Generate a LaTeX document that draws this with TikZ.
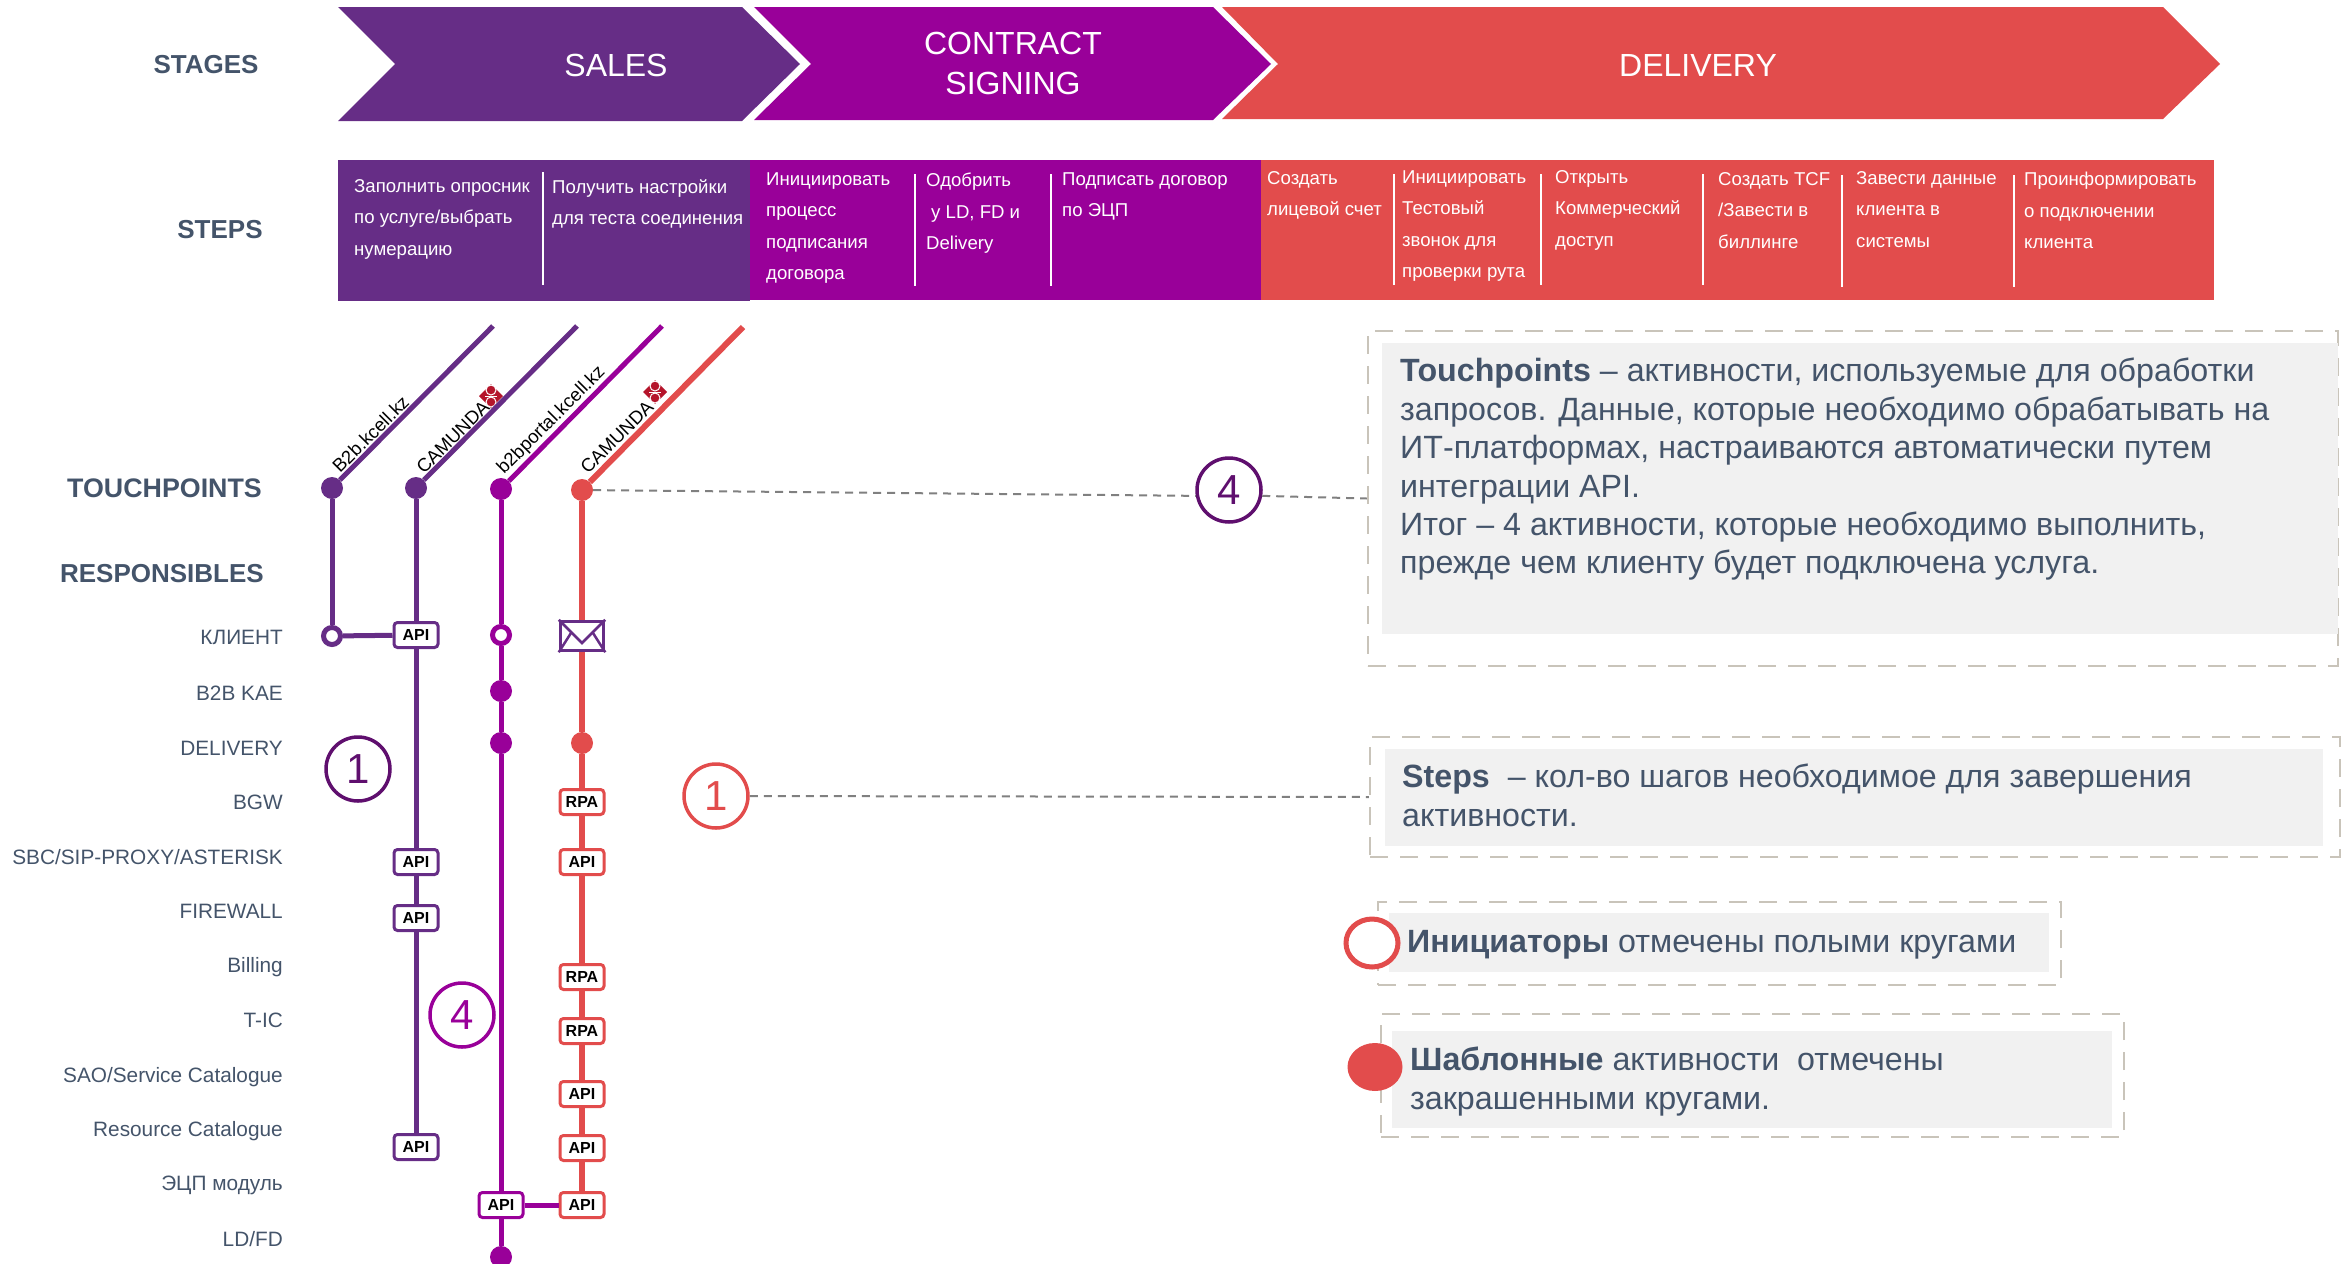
\documentclass[tikz,border=0pt]{standalone}
\usepackage{fontspec}
\setmainfont{Liberation Sans}
\usetikzlibrary{shapes.geometric}
\definecolor{salescol}{HTML}{662D86}
\definecolor{signcol}{HTML}{990099}
\definecolor{delivcol}{HTML}{E24C4C}
\definecolor{darkcount}{HTML}{5F0F6E}
\definecolor{labelcol}{HTML}{44546A}
\definecolor{framecol}{HTML}{C9C4BA}
\definecolor{notecol}{HTML}{F1F1F1}
\definecolor{logocol}{HTML}{B5152B}
\tikzset{
    stagename/.style={text=white, font=\fontsize{32}{40}\selectfont, align=center, inner sep=0pt},
    stepname/.style={text=white, font=\fontsize{18.6}{31.5}\selectfont, align=left, inner sep=0pt, anchor=north west},
    stepline/.style={white, line width=2.5pt},
    heading/.style={text=labelcol, font=\fontsize{26}{30}\selectfont\bfseries, inner sep=0pt},
    role/.style={text=labelcol, font=\fontsize{20.8}{25}\selectfont, inner sep=0pt, anchor=east},
    toolname/.style={font=\fontsize{18.6}{24}\selectfont, rotate=45, inner sep=0pt, anchor=base west},
    dot/.style={circle, fill=#1, minimum size=22pt, inner sep=0pt},
    ring/.style={circle, draw=#1, fill=white, line width=5pt, minimum size=17pt, inner sep=0pt},
    tag/.style={draw=#1, fill=white, rounded corners=3.5pt, line width=3pt, minimum width=44pt, minimum height=25pt,
        inner sep=0pt, font=\fontsize{16}{18}\selectfont\bfseries},
    count/.style={circle, draw=#1, text=#1, line width=3.5pt, minimum size=64pt, inner sep=0pt, font=\fontsize{42}{44}\selectfont},
    route/.style={line width=5pt, draw=#1},
    redroute/.style={line width=6pt, draw=delivcol},
    leader/.style={draw=gray, line width=2pt, dash pattern=on 8pt off 6pt},
    noteframe/.style={draw=framecol, line width=2.5pt, dash pattern=on 18pt off 12pt, inner sep=0pt},
    notetext/.style={text=labelcol, font=\fontsize{32.2}{38.4}\selectfont, align=left, inner sep=0pt, anchor=north west},
    camundalogo/.pic={
        \fill[logocol] (-12,0) -- (0,-12) -- (12,0) -- (0,12) -- cycle;
        \draw[white, line width=1pt] (-6,0) -- (6,0);
        \fill[logocol, draw=white, line width=1pt] (0,-6) circle (5);
        \fill[logocol, draw=white, line width=1pt] (0,6) circle (5);
    }
}

\begin{document}
\begin{tikzpicture}[x=1pt, y=-1pt]
	\useasboundingbox (0,0) rectangle (2346,1264);
	% stages
	\fill[salescol] (338,7) -- (742,7) -- (800,64) -- (742,121) -- (338,121) -- (395,64) -- cycle;
	\fill[signcol] (754,7) -- (1213,7) -- (1271,64) -- (1213,120) -- (754,120) -- (811,64) -- cycle;
	\fill[delivcol] (1222,7) -- (2163,7) -- (2220,64) -- (2163,119) -- (1222,119) -- (1278,64) -- cycle;
	\node[heading] (STAGES) at (206,65) {STAGES};
	\node[stagename] (SALES) at (616,65) {SALES};
	\node[stagename] (SIGNING) at (1013,63) {CONTRACT\\SIGNING};
	\node[stagename] (DELIVERY) at (1698,65) {DELIVERY};
	% steps
	\fill[salescol] (338,160) rectangle (750,301);
	\fill[signcol] (750,160) rectangle (1261,300);
	\fill[delivcol] (1261,160) rectangle (2214,300);
	\node[heading] (STEPS) at (220,230) {STEPS};
	\draw[stepline] (543,172) -- (543,285);
	\draw[stepline] (915,174) -- (915,286);
	\draw[stepline] (1051,174) -- (1051,286);
	\draw[stepline] (1394,174) -- (1394,285);
	\draw[stepline] (1541,174) -- (1541,285);
	\draw[stepline] (1703,174) -- (1703,285);
	\draw[stepline] (1842,175) -- (1842,287);
	\draw[stepline] (2014,175) -- (2014,287);
	\node[stepname] (FORM) at (354,179) {Заполнить опросник\\по услуге/выбрать\\нумерацию};
	\node[stepname] (SETUP) at (552,179) {Получить настройки\\для теста соединения};
	\node[stepname] (INIT) at (766,172) {Инициировать\\процесс\\подписания\\договора};
	\node[stepname] (APPROVE) at (926,173) {Одобрить\\\hspace*{5pt}у LD, FD и\\Delivery};
	\node[stepname] (SIGN) at (1062,172) {Подписать договор\\по ЭЦП};
	\node[stepname] (ACCOUNT) at (1267,171) {Создать\\лицевой счет};
	\node[stepname] (TESTCALL) at (1402,170) {Инициировать\\Тестовый\\звонок для\\проверки рута};
	\node[stepname] (OPENING) at (1555,170) {Открыть\\Коммерческий\\доступ};
	\node[stepname] (BILLING) at (1718,172) {Создать TCF\\/Завести в\\биллинге};
	\node[stepname] (SYSTEMS) at (1856,171) {Завести данные\\клиента в\\системы};
	\node[stepname] (NOTIFY) at (2024,172) {Проинформировать\\о подключении\\клиента};
	% ----
	\node[heading, anchor=east, font=\fontsize{26.8}{30}\selectfont\bfseries] (TOUCHPOINTS) at (262,488) {TOUCHPOINTS};
	\node[heading, anchor=east] (RESPONSIBLES) at (264,574) {RESPONSIBLES};
	\node[role] (CLIENT) at (283,637) {КЛИЕНТ};
	\node[role] (KAE) at (283,693) {B2B KAE};
	\node[role] (DELIV) at (283,748) {DELIVERY};
	\node[role] (BGW) at (283,802) {BGW};
	\node[role] (SBC) at (283,857) {SBC/SIP-PROXY/ASTERISK};
	\node[role] (FIREWALL) at (283,911) {FIREWALL};
	\node[role] (BILL) at (283,967) {Billing};
	\node[role] (TIC) at (283,1020) {T-IC};
	\node[role] (SAO) at (283,1077) {SAO/Service Catalogue};
	\node[role] (RESCAT) at (283,1131) {Resource Catalogue};
	\node[role] (EDS) at (283,1185) {ЭЦП модуль};
	\node[role] (LDFD) at (283,1239) {LD/FD};
	% first route
	\coordinate (ENDA) at (493,326);
	\node[dot=salescol] (TPA) at (332,488) {};
	\node[ring=salescol] (CLIENTA) at (332,636) {};
	\node[toolname] (SITEA) at (340,474) {B2b.kcell.kz};
	% second route
	\coordinate (ENDB) at (577,326);
	\node[dot=salescol] (TPB) at (416,488) {};
	\node[tag=salescol] (APIA) at (416,635) {API};
	\node[tag=salescol] (APIB) at (416,862) {API};
	\node[tag=salescol] (APIC) at (416,918) {API};
	\node[tag=salescol] (APID) at (416,1147) {API};
	\node[toolname] (SITEB) at (424,475) {CAMUNDA};
	\pic at (491,396) {camundalogo};
	% third route
	\coordinate (ENDC) at (662,326);
	\node[dot=signcol] (TPC) at (501,489) {};
	\node[ring=signcol] (CLIENTC) at (501,635) {};
	\node[dot=signcol] (KAEC) at (501,691) {};
	\node[dot=signcol] (DELIVC) at (501,743) {};
	\node[tag=signcol] (APIE) at (501,1205) {API};
	\node[dot=signcol] (LDFDC) at (501,1257) {};
	\node[toolname] (SITEC) at (504,475) {b2bportal.kcell.kz};
	% fourth route
	\coordinate (ENDD) at (743,327);
	\node[dot=delivcol] (TPD) at (582,490) {};
	\node[draw=salescol, fill=white, line width=3.5pt, minimum width=43pt, minimum height=29pt, inner sep=0pt] (MAIL) at (582,636) {};
	\node[dot=delivcol] (DELIVD) at (582,743) {};
	\node[tag=delivcol] (RPAA) at (582,802) {RPA};
	\node[tag=delivcol] (APIF) at (582,862) {API};
	\node[tag=delivcol] (RPAB) at (582,977) {RPA};
	\node[tag=delivcol] (RPAC) at (582,1031) {RPA};
	\node[tag=delivcol] (APIG) at (582,1094) {API};
	\node[tag=delivcol] (APIH) at (582,1148) {API};
	\node[tag=delivcol] (APII) at (582,1205) {API};
	\node[toolname] (SITED) at (588,475) {CAMUNDA};
	\pic at (655,392) {camundalogo};
	% ----
	\draw[route=salescol] (TPA) -- (ENDA);
	\draw[route=salescol] (TPA) -- (CLIENTA);
	\draw[route=salescol] (CLIENTA) -- (APIA);
	\draw[route=salescol] (TPB) -- (ENDB);
	\draw[route=salescol] (TPB) -- (APIA);
	\draw[route=salescol] (APIA) -- (APIB);
	\draw[route=salescol] (APIB) -- (APIC);
	\draw[route=salescol] (APIC) -- (APID);
	\draw[route=signcol] (TPC) -- (ENDC);
	\draw[route=signcol] (TPC) -- (CLIENTC);
	\draw[route=signcol] (CLIENTC) -- (KAEC);
	\draw[route=signcol] (KAEC) -- (DELIVC);
	\draw[route=signcol] (DELIVC) -- (APIE);
	\draw[route=signcol] (APIE) -- (LDFDC);
	\draw[route=signcol] (APIE) -- (APII);
	\draw[redroute] (TPD) -- (ENDD);
	\draw[redroute] (TPD) -- (MAIL);
	\draw[redroute] (MAIL) -- (DELIVD);
	\draw[redroute] (DELIVD) -- (RPAA);
	\draw[redroute] (RPAA) -- (APIF);
	\draw[redroute] (APIF) -- (RPAB);
	\draw[redroute] (RPAB) -- (RPAC);
	\draw[redroute] (RPAC) -- (APIG);
	\draw[redroute] (APIG) -- (APIH);
	\draw[redroute] (APIH) -- (APII);
	\draw[salescol, line width=2.5pt] (MAIL.north west) -- (582,643) -- (MAIL.north east);
	\draw[salescol, line width=2.5pt] (MAIL.south west) -- (571,633);
	\draw[salescol, line width=2.5pt] (MAIL.south east) -- (593,633);
	% counters
	\node[count=darkcount] (COUNTA) at (358,769) {1};
	\node[count=signcol] (COUNTB) at (462,1015) {4};
	\node[count=delivcol] (COUNTC) at (716,796) {1};
	\node[count=darkcount] (COUNTD) at (1229,490) {4};
	% notes
	\node[noteframe, minimum width=970pt, minimum height=335pt] (TPFRAME) at (1853,498.5) {};
	\fill[notecol] (1382,343) rectangle (2338,634);
	\node[notetext] (TPNOTE) at (1400,358) {\textbf{Touchpoints} – активности, используемые для обработки\\запросов. Данные, которые необходимо обрабатывать на\\ИТ-платформах, настраиваются автоматически путем\\интеграции API.\\Итог – 4 активности, которые необходимо выполнить,\\прежде чем клиенту будет подключена услуга.};
	\node[noteframe, minimum width=970pt, minimum height=120pt] (STFRAME) at (1855,797) {};
	\fill[notecol] (1385,749) rectangle (2323,846);
	\node[notetext] (STNOTE) at (1402,764) {\textbf{Steps}\hspace*{9pt} – кол-во шагов необходимое для завершения\\активности.};
	\node[noteframe, minimum width=683pt, minimum height=83pt] (INFRAME) at (1719.5,943.5) {};
	\fill[notecol] (1389,913) rectangle (2049,972);
	\node[notetext] (INNOTE) at (1407,930) {\textbf{Инициаторы} отмечены полыми кругами};
	\node[noteframe, minimum width=743pt, minimum height=123pt] (TMFRAME) at (1752.5,1075.5) {};
	\fill[notecol] (1392,1031) rectangle (2112,1128);
	\node[notetext] (TMNOTE) at (1410,1047) {\textbf{Шаблонные} активности\hspace*{9pt} отмечены\\закрашенными кругами.};
	\node[ellipse, draw=delivcol, fill=white, line width=5pt, minimum width=52pt, minimum height=48pt, inner sep=0pt] (HOLLOW) at (1372,943) {};
	\node[ellipse, fill=delivcol, minimum width=55pt, minimum height=48pt, inner sep=0pt] (SOLID) at (1375,1067) {};
	% leaders
	\draw[leader] (TPD) -- (COUNTD.190);
	\draw[leader] (COUNTD.350) -- (TPFRAME.west);
	\draw[leader] (COUNTC) -- (STFRAME.west);
\end{tikzpicture}
\end{document}
